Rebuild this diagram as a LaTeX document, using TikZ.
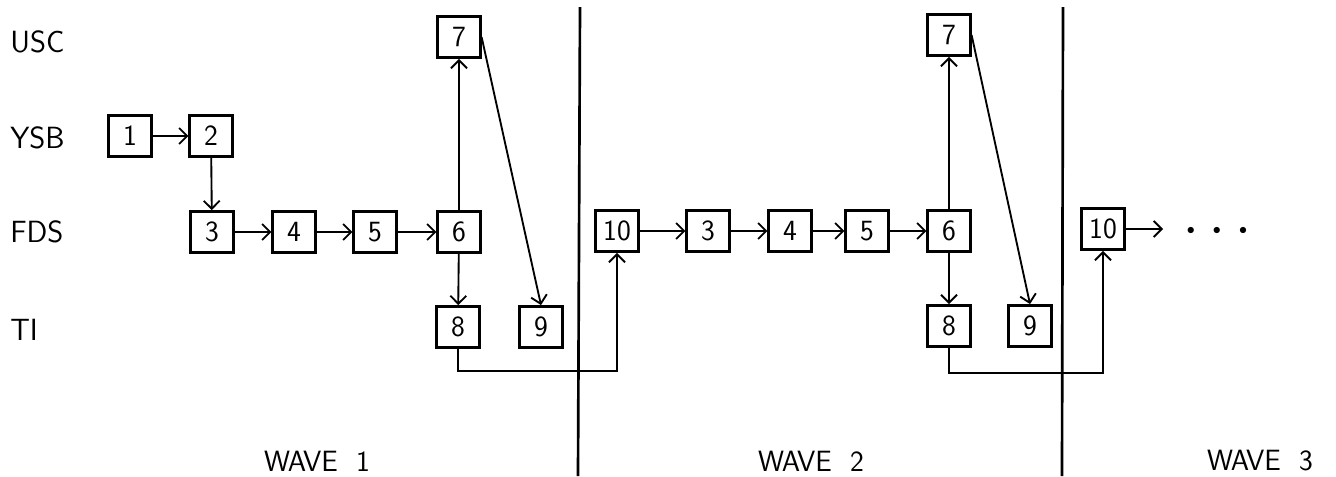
\documentclass[tikz,border=0pt]{standalone}
\usetikzlibrary{arrows.meta}
\begin{document}
\begin{tikzpicture}[x=0.75pt,y=0.75pt,yscale=-1,xscale=1,
    blk/.style={draw,line width=1.9pt,minimum width=32pt,minimum height=31pt,inner sep=0pt,font=\sffamily\fontsize{22}{22}\selectfont},
    lane/.style={anchor=west,inner sep=0pt,font=\sffamily\fontsize{23}{23}\selectfont},
    wave/.style={inner sep=0pt,font=\sffamily\fontsize{22}{22}\selectfont},
    link/.style={-{Straight Barb[length=6pt,width=12pt]},line width=1.4pt},
    divider/.style={line width=2pt}]
    \useasboundingbox (0,0) rectangle (1336,476);
    \node[lane] (usc) at (10,42) {USC};
    \node[lane] (ysb) at (10,138) {YSB};
    \node[lane] (fds) at (10,232) {FDS};
    \node[lane] (ti) at (10,330) {TI};
    \node[blk] (a1) at (130,136) {1};
    \node[blk] (a2) at (211,136) {2};
    \node[blk] (a3) at (212,232) {3};
    \node[blk] (a4) at (294,232) {4};
    \node[blk] (a5) at (375,232) {5};
    \node[blk] (a6) at (459,232) {6};
    \node[blk] (a7) at (459,37) {7};
    \node[blk] (a8) at (458,327) {8};
    \node[blk] (a9) at (541,327) {9};
    \node[blk] (b10) at (617,231) {10};
    \node[blk] (b3) at (708,231) {3};
    \node[blk] (b4) at (790,231) {4};
    \node[blk] (b5) at (867,231) {5};
    \node[blk] (b6) at (949,231) {6};
    \node[blk] (b7) at (949,35) {7};
    \node[blk] (b8) at (949,326) {8};
    \node[blk] (b9) at (1030,326) {9};
    \node[blk] (c10) at (1103,229) {10};
    \node[inner sep=0pt] (dots) at (1217,231) {\fontsize{13}{13}\selectfont$\bullet\hspace{11pt}\bullet\hspace{11pt}\bullet$};
    \coordinate (cend) at (1163,229);
    \draw[link] (a1) -- (a2);
    \draw[link] (a2) -- (a3);
    \draw[link] (a3) -- (a4);
    \draw[link] (a4) -- (a5);
    \draw[link] (a5) -- (a6);
    \draw[link] (a6) -- (a7);
    \draw[link] (a6) -- (a8);
    \draw[link] (a7.east) -- (a9.north);
    \draw[link] (a8.south) -- ++(0,22) -| (b10.south);
    \draw[link] (b10) -- (b3);
    \draw[link] (b3) -- (b4);
    \draw[link] (b4) -- (b5);
    \draw[link] (b5) -- (b6);
    \draw[link] (b6) -- (b7);
    \draw[link] (b6) -- (b8);
    \draw[link] (b7.east) -- (b9.north);
    \draw[link] (b8.south) -- ++(0,25) -| (c10.south);
    \draw[link] (c10.east) -- (cend);
    \draw[divider] (580,7) -- (578,476);
    \draw[divider] (1063,7) -- (1062,476);
    \node[wave] (w1) at (317,461) {WAVE\ \ 1};
    \node[wave] (w2) at (811,461) {WAVE\ \ 2};
    \node[wave] (w3) at (1260,461) {WAVE\ \ 3};
\end{tikzpicture}
\end{document}
